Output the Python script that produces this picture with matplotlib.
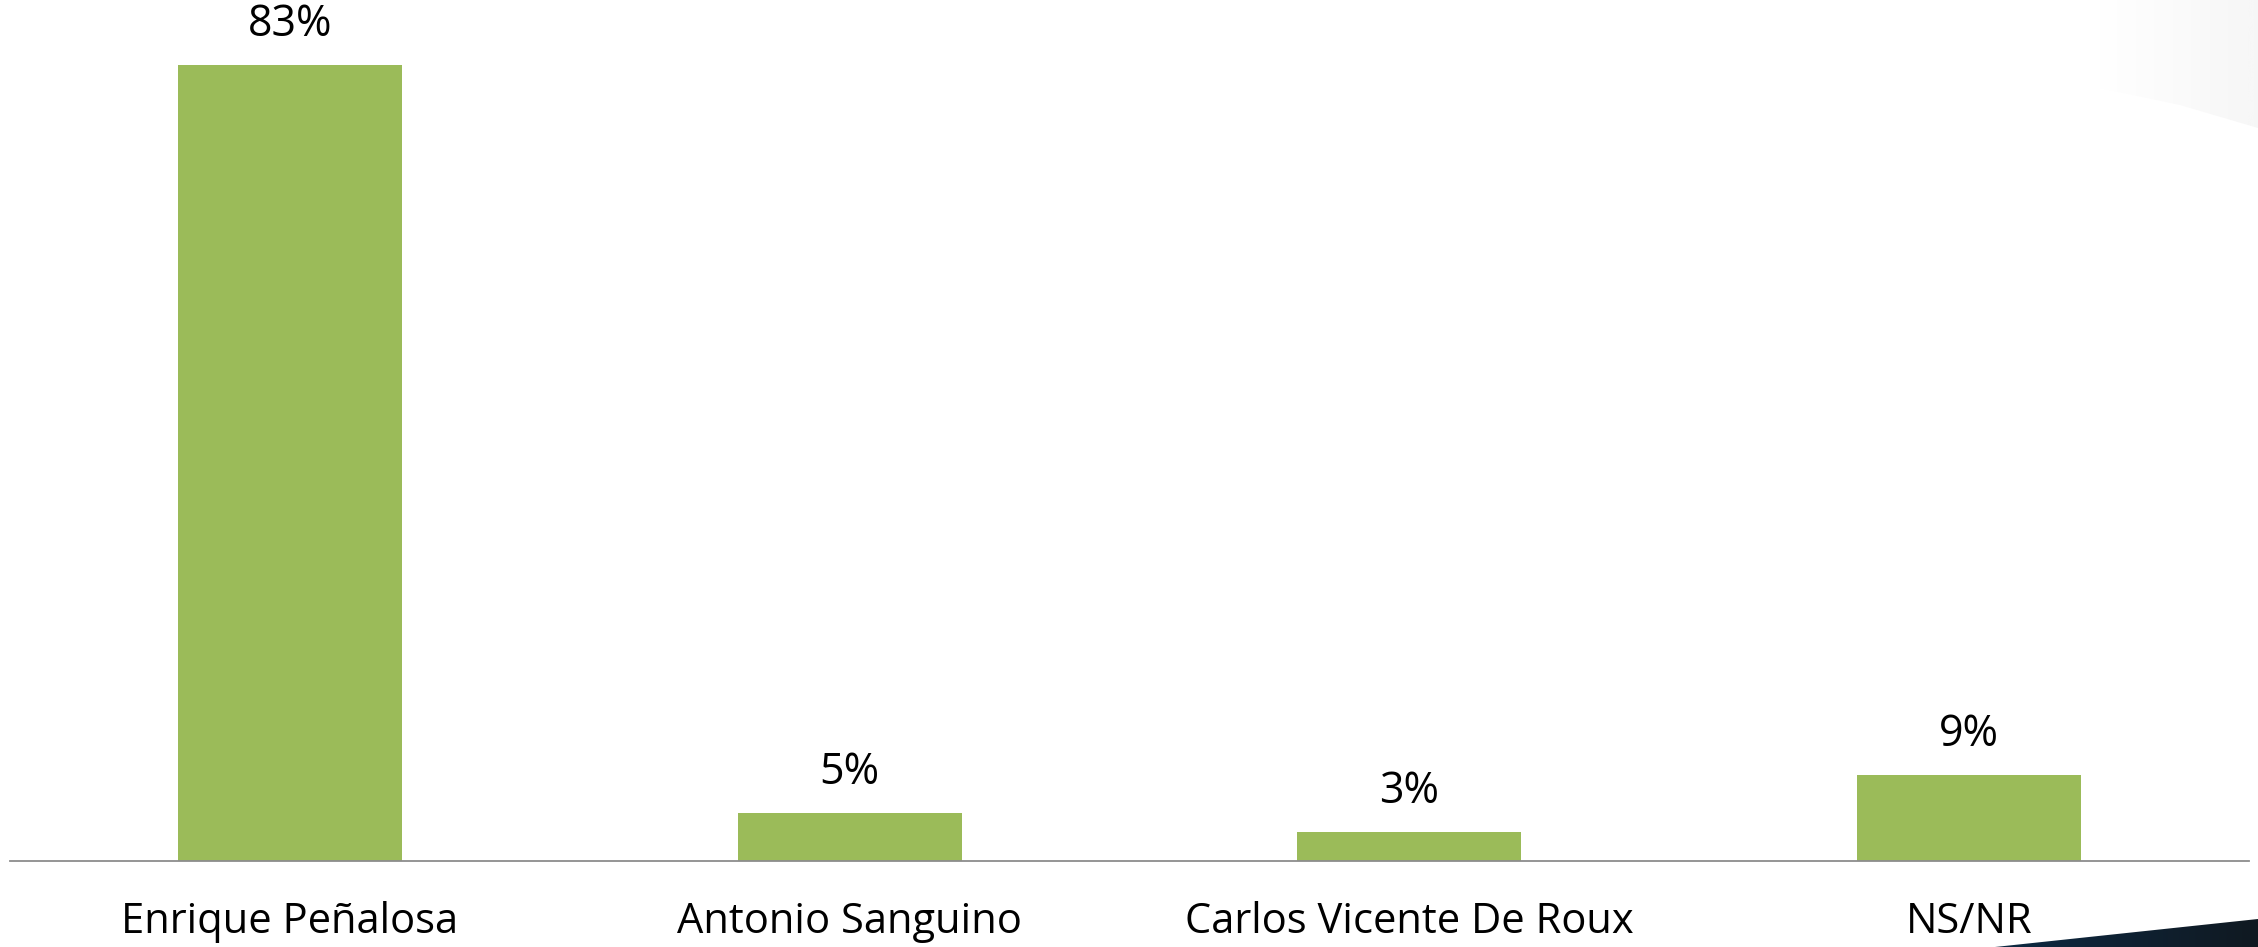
import numpy as np
import matplotlib.pyplot as plt
from matplotlib.patches import Polygon

# -----------------------------
# DATA
# -----------------------------
candidates = ["Enrique Peñalosa", "Antonio Sanguino", "Carlos Vicente De Roux", "NS/NR"]
shares = [83, 5, 3, 9]
share_labels = ["83%", "5%", "3%", "9%"]

BAR_COLOR = "#9BBB59"
W, H = 2258, 947

plt.rcParams["font.family"] = ["Open Sans", "DejaVu Sans"]

fig = plt.figure(figsize=(W / 100, H / 100), dpi=100)

# -----------------------------
# BACKGROUND DECORATION
# -----------------------------
bg = fig.add_axes([0, 0, 1, 1], zorder=-1)
bg.set_xlim(0, W)
bg.set_ylim(H, 0)
bg.axis("off")

# light grey swoosh, top right
grad = np.linspace(0, 1, 256).reshape(1, -1)
light = bg.imshow(grad, extent=(2090, W, 135, 0), cmap="Greys", vmin=0, vmax=14,
                  aspect="auto", interpolation="bicubic")
clip_light = Polygon([(2100, 0), (W, 0), (W, 128), (2180, 105), (2100, 88)],
                     closed=True, transform=bg.transData, facecolor="none", edgecolor="none")
bg.add_patch(clip_light)
light.set_clip_path(clip_light)

# dark navy wedge, bottom right
dark = bg.imshow(grad, extent=(1990, W, H, 915), cmap=plt.cm.colors.LinearSegmentedColormap.from_list(
    "navy", ["#0d2a44", "#101921"]), aspect="auto")
clip_dark = Polygon([(1995, H), (W, 919), (W, H)], closed=True,
                    transform=bg.transData, facecolor="none", edgecolor="none")
bg.add_patch(clip_dark)
dark.set_clip_path(clip_dark)

# -----------------------------
# BARS
# -----------------------------
ax = fig.add_axes([10 / W, (H - 861) / H, 2239 / W, 861 / H])
ax.patch.set_alpha(0)
x = np.arange(len(candidates))
bars = ax.bar(x, shares, width=0.4, color=BAR_COLOR, zorder=2)

ax.set_xlim(-0.5, len(candidates) - 0.5)
ax.set_ylim(0, 89.8)

for b, lab in zip(bars, share_labels):
    ax.annotate(lab, (b.get_x() + b.get_width() / 2, b.get_height()),
                xytext=(0, 29), textcoords="offset points",
                ha="center", va="center", fontsize=31, color="black")

ax.set_xticks(x)
ax.set_xticklabels(candidates, fontsize=30)
ax.tick_params(axis="x", length=0, pad=44)
for lbl in ax.get_xticklabels():
    lbl.set_va("center")
ax.set_yticks([])

for side in ["top", "right", "left"]:
    ax.spines[side].set_visible(False)
ax.spines["bottom"].set_color("#8c8c8c")
ax.spines["bottom"].set_linewidth(1.3)

fig.savefig("out.png", dpi=100)
